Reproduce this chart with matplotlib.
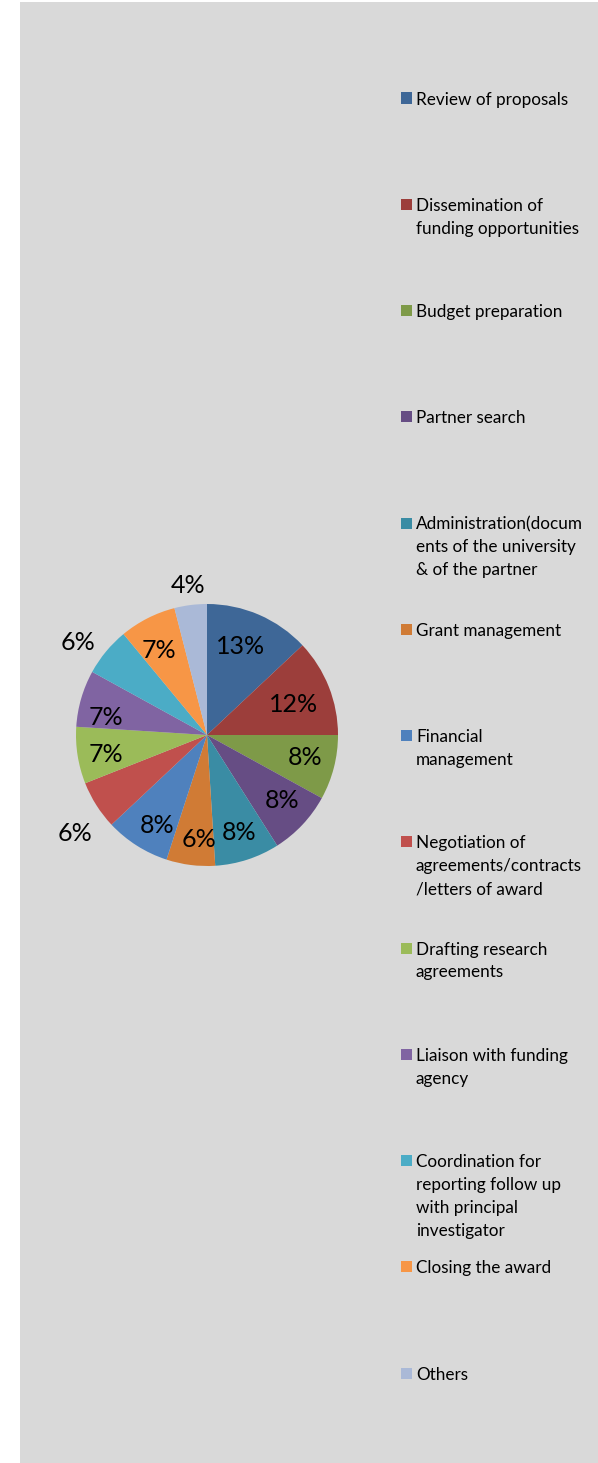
import matplotlib
matplotlib.use('Agg')
import matplotlib.pyplot as plt
from matplotlib.patches import Rectangle
import numpy as np

# Share of grant support activities (percent)
categories = [
    'Review of proposals',
    'Dissemination of\nfunding opportunities',
    'Budget preparation',
    'Partner search',
    'Administration(docum\nents of the university\n& of the partner',
    'Grant management',
    'Financial\nmanagement',
    'Negotiation of\nagreements/contracts\n/letters of award',
    'Drafting research\nagreements',
    'Liaison with funding\nagency',
    'Coordination for\nreporting follow up\nwith principal\ninvestigator',
    'Closing the award',
    'Others',
]
shares = [13, 12, 8, 8, 8, 6, 8, 6, 7, 7, 6, 7, 4]

colors = ['#3E6797', '#9C3E3B', '#7E9A48', '#664D84', '#3A8CA4', '#D07B35',
          '#4F81BD', '#C0504D', '#9BBB59', '#8064A2', '#4BACC6', '#F79646',
          '#AAB9D7']
# percentage label placement: radial distance (fraction of radius) and angular nudge (deg)
label_r = [0.72, 0.70, 0.765, 0.76, 0.78, 0.80, 0.79, 1.255, 0.785, 0.78, 1.21, 0.745, 1.15]
label_shift = [2.8, -2.4, 1.7, 2.3, 0, 2.8, 3.4, 4.2, 1.7, 6.6, 3.8, 2.5, 0]

W, H = 598, 1463
DPI = 100
FONT = 'Lato'

fig = plt.figure(figsize=(W / DPI, H / DPI), dpi=DPI)
fig.patch.set_facecolor('white')

def fx(px):
    return px / W

def fy(py):
    return 1 - py / H

# grey chart area
fig.patches.append(Rectangle((fx(20), 0), fx(W - 20), fy(2), transform=fig.transFigure,
                             facecolor='#D9D9D9', edgecolor='none', zorder=-5))

# pie
cx, cy, r = 207, 735, 131
ax = fig.add_axes([fx(cx - r), fy(cy + r), 2 * r / W, 2 * r / H])
ax.set_zorder(2)
ax.patch.set_visible(False)
wedges, _ = ax.pie(shares, colors=colors, startangle=90, counterclock=False,
                   radius=1, wedgeprops=dict(edgecolor='none'))
ax.set_xlim(-1, 1)
ax.set_ylim(-1, 1)
ax.set_aspect('equal')
ax.axis('off')

for w, v, d, s in zip(wedges, shares, label_r, label_shift):
    mid = np.deg2rad((w.theta1 + w.theta2) / 2 + s)
    ax.text(d * np.cos(mid), d * np.sin(mid), f'{v}%', ha='center', va='center',
            fontsize=18, family=FONT, color='black', clip_on=False)

# legend
y0, step, line_h = 98, 106.25, 23
for i, (lab, c) in enumerate(zip(categories, colors)):
    y = y0 + i * step
    fig.patches.append(Rectangle((fx(401), fy(y + 5.5)), 11 / W, 11 / H,
                                 transform=fig.transFigure, facecolor=c,
                                 edgecolor='none', zorder=2))
    for k, line in enumerate(lab.split('\n')):
        fig.text(fx(416), fy(y + k * line_h), line, ha='left', va='center_baseline',
                 fontsize=12.3, family=FONT, color='black')

fig.savefig('out.png', dpi=DPI)
